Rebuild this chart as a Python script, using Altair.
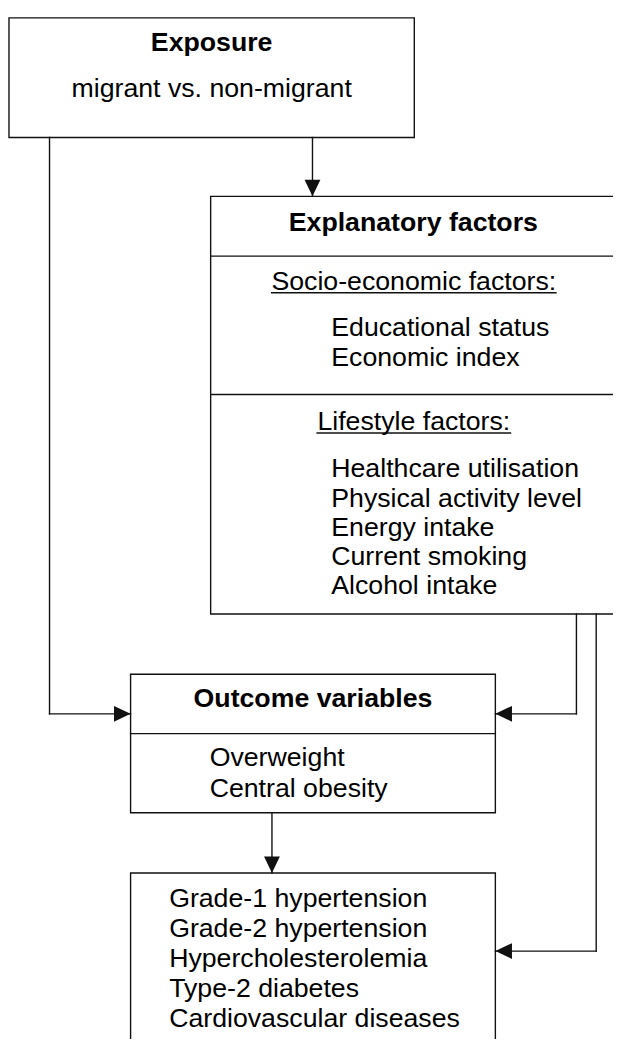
import altair as alt
import pandas as pd

# ---------------- text content ----------------
exposure_title = ["Exposure"]
exposure_lines = ["migrant vs. non-migrant"]
explanatory_title = ["Explanatory factors"]
socio_header = ["Socio-economic factors:"]
socio_items = ["Educational status", "Economic index"]
lifestyle_header = ["Lifestyle factors:"]
lifestyle_items = ["Healthcare utilisation", "Physical activity level",
                   "Energy intake", "Current smoking", "Alcohol intake"]
outcome_title = ["Outcome variables"]
outcome_items = ["Overweight", "Central obesity"]
disease_items = ["Grade-1 hypertension", "Grade-2 hypertension",
                 "Hypercholesterolemia", "Type-2 diabetes",
                 "Cardiovascular diseases"]

# ---------------- layout (page pixel space) ----------------
X0, X1 = 8, 620
Y0, Y1 = 8, 1045
FONT = "Liberation Sans"
FS = 27
INK = "#111111"
LW = 1.4

exp_box = dict(x=9, x2=419, y=12, y2=133)
expl_box = dict(x=213, x2=660, y=192.5, y2=615)
out_box = dict(x=132, x2=501, y=676, y2=816)
dis_box = dict(x=132, x2=501, y=877, y2=1100)
boxes = pd.DataFrame([exp_box, expl_box, out_box, dis_box])

dividers = [
    dict(x=213, x2=660, y=253, y2=253),
    dict(x=213, x2=660, y=393, y2=393),
    dict(x=132, x2=501, y=736, y2=736),
]
connectors = [
    dict(x=50, x2=50, y=133, y2=716),
    dict(x=50, x2=132, y=716, y2=716),
    dict(x=316, x2=316, y=133, y2=192.5),
    dict(x=583, x2=583, y=615, y2=716),
    dict(x=583, x2=501, y=716, y2=716),
    dict(x=603, x2=603, y=615, y2=956),
    dict(x=603, x2=501, y=956, y2=956),
    dict(x=275, x2=275, y=816, y2=877),
]
segments = pd.DataFrame(dividers + connectors)
underlines = pd.DataFrame([
    dict(x=274, x2=563, y=290, y2=290),
    dict(x=320, x2=517, y=432, y2=432),
])

tips_down = pd.DataFrame([dict(x=316, y=192.5), dict(x=275, y=877)])
tips_right = pd.DataFrame([dict(x=132, y=716)])
tips_left = pd.DataFrame([dict(x=501, y=716), dict(x=501, y=956)])


def rows(texts, x, y0, step=0.0):
    return [dict(t=t, x=x, y=y0 + i * step) for i, t in enumerate(texts)]


bold_center = pd.DataFrame(
    rows(exposure_title, 214, 46)
    + rows(explanatory_title, 418, 227.3)
    + rows(outcome_title, 316.5, 709)
)
plain_center = pd.DataFrame(
    rows(exposure_lines, 214, 92)
    + rows(socio_header, 418.5, 287)
    + rows(lifestyle_header, 418.5, 429)
)
plain_left = pd.DataFrame(
    rows(socio_items, 335, 333.3, 30.7)
    + rows(lifestyle_items, 335, 476.7, 29.6)
    + rows(outcome_items, 212, 769, 31)
    + rows(disease_items, 171, 911, 30.5)
)

xs = alt.Scale(domain=[X0, X1], nice=False, zero=False)
ys = alt.Scale(domain=[Y0, Y1], reverse=True, nice=False, zero=False)
X = alt.X("x:Q", scale=xs, axis=None)
Y = alt.Y("y:Q", scale=ys, axis=None)

rect_layer = alt.Chart(boxes).mark_rect(
    fill="white", stroke=INK, strokeWidth=LW, clip=True
).encode(x=X, x2="x2:Q", y=Y, y2="y2:Q")

seg_layer = alt.Chart(segments).mark_rule(
    color=INK, strokeWidth=LW, strokeCap="square", clip=True
).encode(x=X, x2="x2:Q", y=Y, y2="y2:Q")

ul_layer = alt.Chart(underlines).mark_rule(
    color=INK, strokeWidth=1.5, clip=True
).encode(x=X, x2="x2:Q", y=Y, y2="y2:Q")

U = 8  # arrowhead half-width in px -> size = (2U)^2


def heads(df, path):
    return alt.Chart(df).mark_point(
        shape=path, filled=True, size=(2 * U) ** 2, color=INK,
        opacity=1, strokeWidth=0
    ).encode(x=X, y=Y)


down_layer = heads(tips_down, "M-1,-2.1L1,-2.1L0,0Z")
right_layer = heads(tips_right, "M-2.1,-1L-2.1,1L0,0Z")
left_layer = heads(tips_left, "M2.1,-1L2.1,1L0,0Z")


def text_layer(df, align, weight):
    return alt.Chart(df).mark_text(
        align=align, baseline="alphabetic", font=FONT, fontSize=FS,
        fontWeight=weight, color="#000000"
    ).encode(x=X, y=Y, text="t:N")


chart = alt.layer(
    rect_layer, seg_layer, ul_layer, down_layer, right_layer, left_layer,
    text_layer(bold_center, "center", "bold"),
    text_layer(plain_center, "center", "normal"),
    text_layer(plain_left, "left", "normal"),
).properties(
    width=X1 - X0, height=Y1 - Y0, padding=0,
    autosize=alt.AutoSizeParams(type="none"),
    background="white",
).configure_view(stroke=None)

chart.save("out.html", embed_options={"renderer": "svg", "actions": False})
